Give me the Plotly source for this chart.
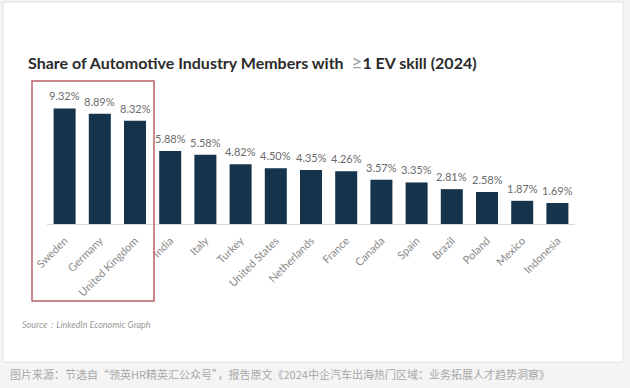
import plotly.graph_objects as go

countries = ["Sweden", "Germany", "United Kingdom", "India", "Italy", "Turkey",
             "United States", "Netherlands", "France", "Canada", "Spain", "Brazil",
             "Poland", "Mexico", "Indonesia"]
shares = [9.32, 8.89, 8.32, 5.88, 5.58, 4.82, 4.50, 4.35, 4.26, 3.57, 3.35, 2.81,
          2.58, 1.87, 1.69]
labels = [f"{v:.2f}%" for v in shares]

W, H = 630, 388
L, R, T, B = 47, 55, 100, 164
PW, PH = W - L - R, H - T - B

def px_x(x):
    return (x - L) / PW

def px_y(y):
    return (H - B - y) / PH

fig = go.Figure(go.Bar(
    x=countries, y=shares, marker_color="#15334b", marker_line_width=0,
    hoverinfo="skip",
))

for c, v, t in zip(countries, shares, labels):
    fig.add_annotation(x=c, y=v, text=t, showarrow=False, yanchor="bottom",
                       yshift=4, font=dict(family="Lato", size=11, color="#6b6b6b"))

shapes = [
    dict(type="rect", xref="paper", yref="paper", layer="below",
         x0=px_x(3), x1=px_x(623), y0=px_y(362), y1=px_y(2),
         fillcolor="white", line=dict(color="#e2e2e2", width=1)),
    dict(type="rect", xref="paper", yref="paper",
         x0=px_x(32), x1=px_x(154), y0=px_y(301), y1=px_y(81),
         fillcolor="rgba(0,0,0,0)", line=dict(color="#b9606a", width=1.5)),
]

fig.add_annotation(xref="paper", yref="paper", x=px_x(20), y=px_y(324),
                   xanchor="left", yanchor="middle", showarrow=False,
                   text="<i>Source：LinkedIn Economic Graph</i>",
                   font=dict(family="Lato", size=9, color="#9a9a9a"))
fig.add_annotation(xref="paper", yref="paper", x=px_x(8), y=px_y(374),
                   xanchor="left", yanchor="middle", showarrow=False,
                   text="图片来源：节选自“领英HR精英汇公众号”，报告原文《2024中企汽车出海热门区域：业务拓展人才趋势洞察》",
                   font=dict(family="Noto Sans CJK SC", size=11, color="#a8a8a8"))

fig.update_layout(
    width=W, height=H,
    margin=dict(l=L, r=R, t=T, b=B),
    paper_bgcolor="#f4f4f4", plot_bgcolor="rgba(0,0,0,0)",
    bargap=0.375, showlegend=False,
    title=dict(text="Share of Automotive Industry Members with  <span style='color:#a0a0a0;font-weight:normal;font-size:19px'>≥</span>1 EV skill (2024)",
               x=28 / W, xanchor="left", xref="container",
               y=1 - 63 / H, yanchor="middle", yref="container",
               font=dict(family="Lato", size=16, color="#2b2b2b", weight="bold")),
    shapes=shapes,
    xaxis=dict(tickangle=-45, tickfont=dict(family="Lato", size=11, color="#8a8a8a"),
               showline=True, linecolor="#d9d9d9", linewidth=1, ticks="",
               showgrid=False, ticklabelstandoff=5, fixedrange=True),
    yaxis=dict(range=[0, 10], visible=False, showgrid=False, fixedrange=True),
)

fig.write_html("out.html", config={"displayModeBar": False},
               post_script="document.body.style.margin='0';document.body.style.background='#f4f4f4';")
